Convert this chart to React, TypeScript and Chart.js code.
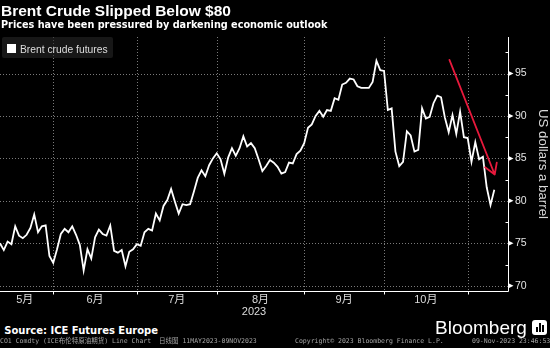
import React, { useEffect, useRef } from 'react';
import { Chart, registerables } from 'chart.js';

Chart.register(...registerables);

// ---- data ----
const tradingDays = [
  '05-11', '05-12', '05-15', '05-16', '05-17', '05-18', '05-19', '05-22', '05-23', '05-24', '05-25', '05-26', '05-29', '05-30', '05-31',
  '06-01', '06-02', '06-05', '06-06', '06-07', '06-08', '06-09', '06-12', '06-13', '06-14', '06-15', '06-16', '06-19', '06-20', '06-21', '06-22', '06-23', '06-26', '06-27', '06-28', '06-29', '06-30',
  '07-03', '07-04', '07-05', '07-06', '07-07', '07-10', '07-11', '07-12', '07-13', '07-14', '07-17', '07-18', '07-19', '07-20', '07-21', '07-24', '07-25', '07-26', '07-27', '07-28', '07-31',
  '08-01', '08-02', '08-03', '08-04', '08-07', '08-08', '08-09', '08-10', '08-11', '08-14', '08-15', '08-16', '08-17', '08-18', '08-21', '08-22', '08-23', '08-24', '08-25', '08-28', '08-29', '08-30', '08-31',
  '09-01', '09-04', '09-05', '09-06', '09-07', '09-08', '09-11', '09-12', '09-13', '09-14', '09-15', '09-18', '09-19', '09-20', '09-21', '09-22', '09-25', '09-26', '09-27', '09-28', '09-29',
  '10-02', '10-03', '10-04', '10-05', '10-06', '10-09', '10-10', '10-11', '10-12', '10-13', '10-16', '10-17', '10-18', '10-19', '10-20', '10-23', '10-24', '10-25', '10-26', '10-27', '10-30', '10-31',
  '11-01', '11-02', '11-03', '11-06', '11-07', '11-08', '11-09',
];

const brentPrices = [
  75.0, 74.2, 75.2, 74.9, 77.0, 75.9, 75.6, 76.0, 76.8, 78.4, 76.3, 77.0, 77.1, 73.5, 72.7,
  74.3, 76.1, 76.7, 76.3, 77.0, 76.0, 74.8, 71.8, 74.3, 73.2, 75.7, 76.6, 76.1, 75.9, 77.1, 74.1, 73.9, 74.2, 72.3, 74.0, 74.3, 74.9,
  74.7, 76.3, 76.7, 76.5, 78.5, 77.7, 79.4, 80.1, 81.4, 79.9, 78.5, 79.6, 79.5, 79.6, 81.1, 82.7, 83.6, 82.9, 84.2, 85.0, 85.6,
  84.9, 83.2, 85.1, 86.2, 85.3, 86.2, 87.6, 86.4, 86.8, 86.2, 84.9, 83.5, 84.1, 84.8, 84.5, 84.0, 83.2, 83.4, 84.5, 84.4, 85.5, 85.9, 86.8,
  88.6, 89.0, 90.0, 90.6, 89.9, 90.7, 90.6, 92.1, 91.9, 93.7, 93.9, 94.4, 94.3, 93.5, 93.3, 93.3, 93.3, 94.0, 96.5, 95.4, 95.3,
  90.7, 90.9, 85.8, 84.1, 84.6, 88.2, 87.7, 85.8, 86.0, 90.9, 89.7, 89.9, 91.5, 92.4, 92.2, 89.8, 88.1, 90.1, 87.9, 90.5, 87.5, 87.4,
  84.6, 86.9, 84.9, 85.2, 81.6, 79.5, 81.3,
];

const monthLabels = ['5月', '6月', '7月', '8月', '9月', '10月'];
const yTicks = [70, 75, 80, 85, 90, 95];
const yMinorTicks = [72.5, 77.5, 82.5, 87.5, 92.5, 97.5];
const yRange = [69.38, 99.3];
const xRangeMax = 133.6;
// trend arrow annotation, in (trading-day index, price)
const arrowStart = [118.2, 96.6];
const arrowEnd = [130.1, 83.1];

// ---- derived ----
const monthEnds: number[] = [];
for (let i = 0; i < tradingDays.length - 1; i++) {
  if (tradingDays[i].slice(0, 2) !== tradingDays[i + 1].slice(0, 2)) monthEnds.push(i);
}
const monthLabelPos = monthLabels.map((_, k) => ((k === 0 ? -1 : monthEnds[k - 1]) + monthEnds[k]) / 2);

const ARIAL = "'Liberation Sans', Arial, 'Noto Sans CJK SC', sans-serif";

const decorPlugin = {
  id: 'decor',
  beforeDatasetsDraw(chart: any) {
    const { ctx, chartArea: a, scales } = chart;
    const x = scales.x, y = scales.y;
    ctx.save();
    ctx.strokeStyle = '#7a7a7a';
    ctx.lineWidth = 1;
    ctx.setLineDash([1, 2]);
    yTicks.forEach((v) => {
      const py = Math.round(y.getPixelForValue(v)) + 0.5;
      ctx.beginPath();
      ctx.moveTo(a.left, py);
      ctx.lineTo(a.right, py);
      ctx.stroke();
    });
    monthEnds.forEach((i) => {
      const px = Math.round(x.getPixelForValue(i)) + 0.5;
      ctx.beginPath();
      ctx.moveTo(px, a.top);
      ctx.lineTo(px, a.bottom);
      ctx.stroke();
    });
    ctx.restore();
  },
  afterDraw(chart: any) {
    const { ctx, chartArea: a, scales } = chart;
    const x = scales.x, y = scales.y;
    ctx.save();
    ctx.setLineDash([]);
    ctx.strokeStyle = '#ffffff';
    ctx.fillStyle = '#ffffff';
    ctx.lineWidth = 1;
    const rx = Math.round(a.right) + 0.5;
    const by = Math.round(a.bottom) + 0.5;
    ctx.beginPath();
    ctx.moveTo(rx, a.top);
    ctx.lineTo(rx, by);
    ctx.lineTo(a.left, by);
    ctx.stroke();
    yMinorTicks.forEach((v) => {
      const py = Math.round(y.getPixelForValue(v)) + 0.5;
      ctx.beginPath();
      ctx.moveTo(rx - 3, py);
      ctx.lineTo(rx, py);
      ctx.stroke();
    });
    yTicks.forEach((v) => {
      const py = y.getPixelForValue(v);
      ctx.beginPath();
      ctx.moveTo(rx, py - 2.5);
      ctx.lineTo(rx + 5, py);
      ctx.lineTo(rx, py + 2.5);
      ctx.closePath();
      ctx.fill();
    });
    monthEnds.forEach((i) => {
      const px = Math.round(x.getPixelForValue(i)) + 0.5;
      ctx.beginPath();
      ctx.moveTo(px, by);
      ctx.lineTo(px, by + 3);
      ctx.stroke();
    });
    // arrow
    const fx = x.getPixelForValue(arrowStart[0]);
    const fy = y.getPixelForValue(arrowStart[1]);
    const tx = x.getPixelForValue(arrowEnd[0]);
    const ty = y.getPixelForValue(arrowEnd[1]);
    const ang = Math.atan2(ty - fy, tx - fx) + Math.PI;
    ctx.strokeStyle = '#e8193c';
    ctx.lineWidth = 1.8;
    ctx.lineCap = 'round';
    ctx.lineJoin = 'round';
    ctx.beginPath();
    ctx.moveTo(fx, fy);
    ctx.lineTo(tx, ty);
    ctx.moveTo(tx + 12 * Math.cos(ang - 0.55), ty + 12 * Math.sin(ang - 0.55));
    ctx.lineTo(tx, ty);
    ctx.lineTo(tx + 12 * Math.cos(ang + 0.55), ty + 12 * Math.sin(ang + 0.55));
    ctx.stroke();
    ctx.restore();
  },
};

export default function App() {
  const ref = useRef<HTMLCanvasElement>(null);

  useEffect(() => {
    document.body.style.margin = '0';
    document.body.style.background = '#000';
    const chart = new Chart(ref.current as HTMLCanvasElement, {
      type: 'line',
      data: {
        datasets: [
          {
            label: 'Brent crude futures',
            data: brentPrices.map((v, i) => ({ x: i, y: v })),
            borderColor: '#ffffff',
            borderWidth: 1.8,
            pointRadius: 0,
            tension: 0,
            fill: false,
          },
        ],
      },
      options: {
        animation: false,
        responsive: false,
        devicePixelRatio: 1,
        layout: { padding: { top: 37, left: 0, right: 0, bottom: 0 } },
        plugins: { legend: { display: false }, tooltip: { enabled: false } },
        scales: {
          x: {
            type: 'linear',
            min: 0,
            max: xRangeMax,
            afterBuildTicks: (s: any) => {
              s.ticks = monthLabelPos.map((v) => ({ value: v }));
            },
            afterFit: (s: any) => {
              s.height = 31;
            },
            ticks: {
              callback: (_v: any, i: number) => monthLabels[i],
              color: '#dcdcdc',
              font: { size: 11, family: ARIAL },
              padding: 2,
              maxRotation: 0,
              autoSkip: false,
            },
            grid: { display: false, drawTicks: false },
            border: { display: false },
            title: {
              display: true,
              text: '2023',
              color: '#dcdcdc',
              font: { size: 11, family: ARIAL },
              padding: { top: 0, bottom: 3 },
            },
          },
          y: {
            type: 'linear',
            position: 'right',
            min: yRange[0],
            max: yRange[1],
            afterBuildTicks: (s: any) => {
              s.ticks = yTicks.map((v) => ({ value: v }));
            },
            afterFit: (s: any) => {
              s.width = 42;
            },
            ticks: {
              color: '#e4e4e4',
              font: { size: 10.5, family: ARIAL },
              padding: 7,
            },
            grid: { display: false, drawTicks: false },
            border: { display: false },
            title: {
              display: true,
              text: 'US dollars a barrel',
              color: '#d8d8d8',
              font: { size: 13.3, family: ARIAL, lineHeight: 1.1 },
              padding: 0,
            },
          },
        },
      },
      plugins: [decorPlugin],
    } as any);
    return () => chart.destroy();
  }, []);

  const abs = (s: React.CSSProperties): React.CSSProperties => ({ position: 'absolute', lineHeight: 1, whiteSpace: 'pre', margin: 0, ...s });

  return (
    <div style={{ position: 'fixed', left: 0, top: 0, width: 550, height: 348, background: '#000', overflow: 'hidden' }}>
      <canvas ref={ref} width={550} height={322} style={{ position: 'absolute', left: 0, top: 0, width: 550, height: 322 }} />
      <div style={abs({ left: 1, top: 3, fontFamily: ARIAL, fontWeight: 700, fontSize: 15.5, color: '#fff' })}>Brent Crude Slipped Below $80</div>
      <div style={abs({ left: 1, top: 20.4, fontFamily: "'DejaVu Sans', sans-serif", fontWeight: 700, fontSize: 9.7, color: '#fff' })}>Prices have been pressured by darkening economic outlook</div>
      <div style={abs({ left: 2, top: 37, width: 111, height: 21, background: 'rgba(38,38,38,0.6)', borderRadius: 2 })} />
      <div style={abs({ left: 7.3, top: 44.3, width: 8.4, height: 8.4, background: '#fff' })} />
      <div style={abs({ left: 20, top: 44.7, fontFamily: ARIAL, fontSize: 10.3, color: '#dedede' })}>Brent crude futures</div>
      <div style={abs({ left: 4.2, top: 325.8, fontFamily: "'DejaVu Sans', sans-serif", fontWeight: 700, fontSize: 10, color: '#fff' })}>Source: ICE Futures Europe</div>
      <div style={abs({ left: 435, top: 317.6, fontFamily: ARIAL, fontSize: 19, color: '#fff' })}>Bloomberg</div>
      <div style={abs({ left: 532, top: 319.5, width: 15, height: 15, background: '#fff', borderRadius: 3 })}>
        <div style={abs({ left: 3.5, top: 7, width: 2, height: 5, background: '#000' })} />
        <div style={abs({ left: 6.5, top: 3, width: 2, height: 9, background: '#000' })} />
        <div style={abs({ left: 9.5, top: 5.5, width: 2, height: 6.5, background: '#000' })} />
      </div>
      <div style={abs({ left: 0, top: 337.9, fontFamily: "'DejaVu Sans Mono', 'Noto Sans CJK SC', monospace", fontSize: 6.5, color: '#a4a4a4' })}>CO1 Comdty (ICE布伦特原油期货) Line Chart  日线图 11MAY2023-09NOV2023</div>
      <div style={abs({ left: 295, top: 337.9, fontFamily: "'DejaVu Sans Mono', monospace", fontSize: 6.5, color: '#a4a4a4' })}>Copyright© 2023 Bloomberg Finance L.P.</div>
      <div style={abs({ left: 472, top: 337.9, fontFamily: "'DejaVu Sans Mono', monospace", fontSize: 6.5, color: '#a4a4a4' })}>09-Nov-2023 23:46:53</div>
    </div>
  );
}
